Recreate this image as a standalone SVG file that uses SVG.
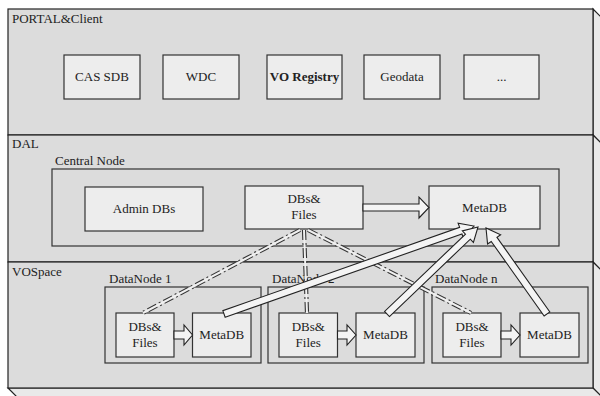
<svg xmlns="http://www.w3.org/2000/svg" width="600" height="396" viewBox="0 0 600 396" font-family="'Liberation Serif', 'Times New Roman', Times, serif">
<style>
text{font-family:'Liberation Serif','Times New Roman',Times,serif;font-size:13px;fill:#222}
.c{text-anchor:middle}
.layer{fill:#dcdcdc;stroke:#222;stroke-width:1.2}
.face{fill:#e9e9e9;stroke:#222;stroke-width:1.2}
.grp{fill:#dcdcdc;stroke:#333;stroke-width:1.2}
.box{fill:#ededed;stroke:#333;stroke-width:1.2}
.ha{fill:#f4f4f4;stroke:#222;stroke-width:1.1;stroke-linejoin:miter}
.dd{fill:none;stroke:#333;stroke-width:4.2;stroke-dasharray:10 3 2 3}
.ddi{fill:none;stroke:#f0f0f0;stroke-width:2}
</style>
<rect width="600" height="396" fill="#ffffff"/>
<g id="layer-portal">
<polygon class="face" points="593,9 607,23 607,149 593,135"/>
<rect class="layer" x="8" y="9" width="585" height="126"/>
<text x="12" y="23">PORTAL&amp;Client</text>
</g>
<g id="layer-dal">
<polygon class="face" points="593,135 607,149 607,276 593,262"/>
<rect class="layer" x="8" y="135" width="585" height="127"/>
<text x="12" y="148">DAL</text>
</g>
<g id="layer-vospace">
<polygon class="face" points="593,262 607,276 607,402 593,388"/>
<polygon class="face" points="8,388 22,402 607,402 593,388"/>
<rect class="layer" x="8" y="262" width="585" height="126"/>
<text x="12" y="276">VOSpace</text>
</g>
<g id="cas-sdb"><rect class="box" x="64" y="55" width="76" height="44"/><text class="c" x="102" y="81">CAS SDB</text></g>
<g id="wdc"><rect class="box" x="163" y="55" width="76" height="44"/><text class="c" x="201" y="81">WDC</text></g>
<g id="vo-registry"><rect class="box" x="267" y="55" width="75" height="44"/><text class="c" x="304.5" y="81" font-weight="bold">VO Registry</text></g>
<g id="geodata"><rect class="box" x="364" y="55" width="76" height="44"/><text class="c" x="402" y="81">Geodata</text></g>
<g id="more"><rect class="box" x="464" y="55" width="75" height="44"/><text class="c" x="501.5" y="81" font-size="10">...</text></g>
<g id="central-node">
<text x="55" y="165">Central Node</text>
<rect class="grp" x="52" y="169" width="507" height="77"/>
</g>
<g id="admin-dbs"><rect class="box" x="85" y="187" width="118" height="44"/><text class="c" x="144" y="213">Admin DBs</text></g>
<g id="central-dbs"><rect class="box" x="245" y="186" width="118" height="43"/><text class="c" x="304" y="203">DBs&amp;</text><text class="c" x="304" y="219">Files</text></g>
<g id="central-metadb"><rect class="box" x="429" y="186" width="111" height="43"/><text class="c" x="484.5" y="212">MetaDB</text></g>
<g id="datanode-1">
<text x="109" y="283">DataNode 1</text>
<rect class="grp" x="105" y="287" width="156" height="76"/>
</g>
<g id="datanode-2">
<text x="272" y="283">DataNode 2</text>
<rect class="grp" x="268" y="287" width="156" height="76"/>
</g>
<g id="datanode-n">
<text x="435" y="283">DataNode n</text>
<rect class="grp" x="432" y="287" width="156" height="76"/>
</g>
<g id="dn1-dbs"><rect class="box" x="116" y="313" width="58" height="44"/><text class="c" x="145" y="331">DBs&amp;</text><text class="c" x="145" y="347">Files</text></g>
<g id="dn1-metadb"><rect class="box" x="192.5" y="313" width="58.5" height="44"/><text class="c" x="221.75" y="339">MetaDB</text></g>
<g id="dn2-dbs"><rect class="box" x="279" y="313" width="58.5" height="44"/><text class="c" x="308.25" y="331">DBs&amp;</text><text class="c" x="308.25" y="347">Files</text></g>
<g id="dn2-metadb"><rect class="box" x="356" y="313" width="59" height="44"/><text class="c" x="385.5" y="339">MetaDB</text></g>
<g id="dnn-dbs"><rect class="box" x="443" y="313" width="58" height="44"/><text class="c" x="472" y="331">DBs&amp;</text><text class="c" x="472" y="347">Files</text></g>
<g id="dnn-metadb"><rect class="box" x="520" y="313" width="59" height="44"/><text class="c" x="549.5" y="339">MetaDB</text></g>
<g id="connectors">
<polygon class="ha" points="363,204 419,204 419,197 429,207.5 419,218 419,211 363,211"/>
<polygon class="ha" points="174,331 184,331 184,325 192.5,335 184,345 184,339 174,339"/>
<polygon class="ha" points="337.5,331 347,331 347,325 356,335 347,345 347,339 337.5,339"/>
<polygon class="ha" points="501,331 511,331 511,325 520,335 511,345 511,339 501,339"/>
<path class="dd" d="M300,230 L143,313"/><path class="ddi" d="M300,230 L143,313"/>
<path class="dd" d="M304,230 L307,313"/><path class="ddi" d="M304,230 L307,313"/>
<path class="dd" d="M308,230 L471,313"/><path class="ddi" d="M308,230 L471,313"/>
<polygon class="ha" points="225.16,317.30 461.95,233.95 463.45,238.20 474,226 458.13,223.10 459.63,227.35 222.84,310.70"/>
<polygon class="ha" points="389.42,316.53 470.30,239.20 473.41,242.45 478,227 462.35,230.89 465.46,234.14 384.58,311.47"/>
<polygon class="ha" points="549.86,311.98 496.96,237.39 500.63,234.79 486,228 487.57,244.05 491.24,241.45 544.14,316.03"/>
</g>
</svg>
